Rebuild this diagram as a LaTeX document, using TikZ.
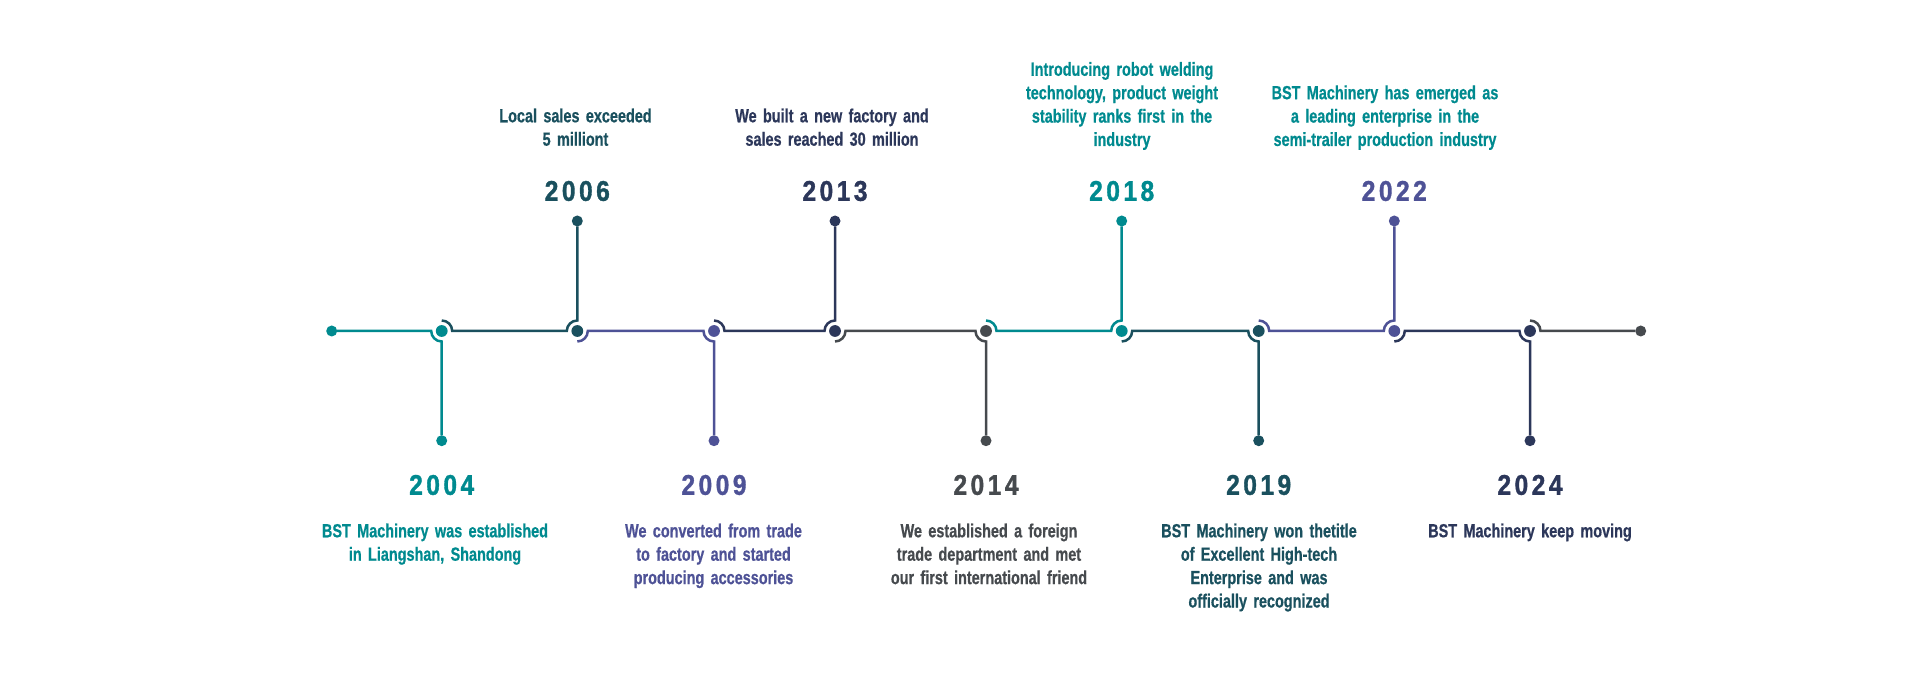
\documentclass[tikz,border=0pt]{standalone}
\usepackage{fontspec}
\setmainfont{Liberation Sans}
\newfontfamily\descfont[FakeStretch=0.76,FakeBold=0.6]{Liberation Sans}
\newfontfamily\yearfont[FakeStretch=0.86,FakeBold=1.2]{Liberation Sans}
\definecolor{cteal}{RGB}{0,138,143}
\definecolor{cpetrol}{RGB}{26,80,94}
\definecolor{cviolet}{RGB}{78,82,150}
\definecolor{cnavy}{RGB}{44,55,90}
\definecolor{cgrey}{RGB}{70,74,78}
\newcommand\spyear[4]{#1\kern3.5pt#2\kern3.5pt#3\kern3.5pt#4}

\begin{document}
\begin{tikzpicture}[x=10pt,y=10pt,
  hub/.style={circle,minimum size=21pt,outer sep=0pt,path picture={\fill[#1] (path picture bounding box.center) circle (5.9pt);}},
  tip/.style={circle,fill=#1,minimum size=11pt,outer sep=0pt},
  link/.style={#1,line width=2.5pt},
  year/.style={#1,font=\yearfont\bfseries\fontsize{28.5}{30}\selectfont},
  desc/.style={#1,font=\descfont\bfseries\fontsize{19}{23.4}\selectfont,text width=260pt,align=center,anchor=base}]
\tikzstyle{every node}+=[inner sep=0pt]
\useasboundingbox (0,0) rectangle (192,-68.4);
% line ends and hubs
\node [tip=cteal] (start) at (33.17,-33.1) {};
\node [tip=cgrey] (finish) at (164.07,-33.1) {};
\node [hub=cteal] (h2004) at (44.17,-33.1) {};
\node [hub=cpetrol] (h2006) at (57.73,-33.1) {};
\node [hub=cviolet] (h2009) at (71.40,-33.1) {};
\node [hub=cnavy] (h2013) at (83.50,-33.1) {};
\node [hub=cgrey] (h2014) at (98.60,-33.1) {};
\node [hub=cteal] (h2018) at (112.17,-33.1) {};
\node [hub=cpetrol] (h2019) at (125.87,-33.1) {};
\node [hub=cviolet] (h2022) at (139.43,-33.1) {};
\node [hub=cnavy] (h2024) at (153.00,-33.1) {};
% stem tips
\node [tip=cteal] (t2004) at (44.17,-44.07) {};
\node [tip=cpetrol] (t2006) at (57.73,-22.1) {};
\node [tip=cviolet] (t2009) at (71.40,-44.07) {};
\node [tip=cnavy] (t2013) at (83.50,-22.1) {};
\node [tip=cgrey] (t2014) at (98.60,-44.07) {};
\node [tip=cteal] (t2018) at (112.17,-22.1) {};
\node [tip=cpetrol] (t2019) at (125.87,-44.07) {};
\node [tip=cviolet] (t2022) at (139.43,-22.1) {};
\node [tip=cnavy] (t2024) at (153.00,-44.07) {};
% links
\draw [link=cteal] (start) -- (h2004.west) arc [start angle=180,end angle=270,radius=10.5pt] -- (t2004);
\draw [link=cpetrol] (h2004.north) arc [start angle=90,end angle=0,radius=10.5pt] -- (h2006.west) arc [start angle=180,end angle=90,radius=10.5pt] -- (t2006);
\draw [link=cviolet] (h2006.south) arc [start angle=270,end angle=360,radius=10.5pt] -- (h2009.west) arc [start angle=180,end angle=270,radius=10.5pt] -- (t2009);
\draw [link=cnavy] (h2009.north) arc [start angle=90,end angle=0,radius=10.5pt] -- (h2013.west) arc [start angle=180,end angle=90,radius=10.5pt] -- (t2013);
\draw [link=cgrey] (h2013.south) arc [start angle=270,end angle=360,radius=10.5pt] -- (h2014.west) arc [start angle=180,end angle=270,radius=10.5pt] -- (t2014);
\draw [link=cteal] (h2014.north) arc [start angle=90,end angle=0,radius=10.5pt] -- (h2018.west) arc [start angle=180,end angle=90,radius=10.5pt] -- (t2018);
\draw [link=cpetrol] (h2018.south) arc [start angle=270,end angle=360,radius=10.5pt] -- (h2019.west) arc [start angle=180,end angle=270,radius=10.5pt] -- (t2019);
\draw [link=cviolet] (h2019.north) arc [start angle=90,end angle=0,radius=10.5pt] -- (h2022.west) arc [start angle=180,end angle=90,radius=10.5pt] -- (t2022);
\draw [link=cnavy] (h2022.south) arc [start angle=270,end angle=360,radius=10.5pt] -- (h2024.west) arc [start angle=180,end angle=270,radius=10.5pt] -- (t2024);
\draw [link=cgrey] (h2024.north) arc [start angle=90,end angle=0,radius=10.5pt] -- (finish);
% years
\node [year=cteal] (y2004) at (44.17,-48.5) {\spyear2004};
\node [year=cpetrol] (y2006) at (57.73,-19.1) {\spyear2006};
\node [year=cviolet] (y2009) at (71.40,-48.5) {\spyear2009};
\node [year=cnavy] (y2013) at (83.50,-19.1) {\spyear2013};
\node [year=cgrey] (y2014) at (98.60,-48.5) {\spyear2014};
\node [year=cteal] (y2018) at (112.17,-19.1) {\spyear2018};
\node [year=cpetrol] (y2019) at (125.87,-48.5) {\spyear2019};
\node [year=cviolet] (y2022) at (139.43,-19.1) {\spyear2022};
\node [year=cnavy] (y2024) at (153.00,-48.5) {\spyear2024};
% texts
\node [desc=cteal] (d2004) at (43.5,-53.73) {BST Machinery was established\\in Liangshan, Shandong};
\node [desc=cpetrol] (d2006) at (57.55,-12.23) {Local sales exceeded\\5 milliont};
\node [desc=cviolet] (d2009) at (71.35,-53.73) {We converted from trade\\to factory and started\\producing accessories};
\node [desc=cnavy] (d2013) at (83.2,-12.23) {We built a new factory and\\sales reached 30 million};
\node [desc=cgrey] (d2014) at (98.9,-53.73) {We established a foreign\\trade department and met\\our first international friend};
\node [desc=cteal] (d2018) at (112.2,-7.58) {Introducing robot welding\\technology, product weight\\stability ranks first in the\\industry};
\node [desc=cpetrol] (d2019) at (125.9,-53.73) {BST Machinery won thetitle\\of Excellent High-tech\\Enterprise and was\\officially recognized};
\node [desc=cteal] (d2022) at (138.5,-9.92) {BST Machinery has emerged as\\a leading enterprise in the\\semi-trailer production industry};
\node [desc=cnavy] (d2024) at (153.0,-53.73) {BST Machinery keep moving};
\end{tikzpicture}
\end{document}
